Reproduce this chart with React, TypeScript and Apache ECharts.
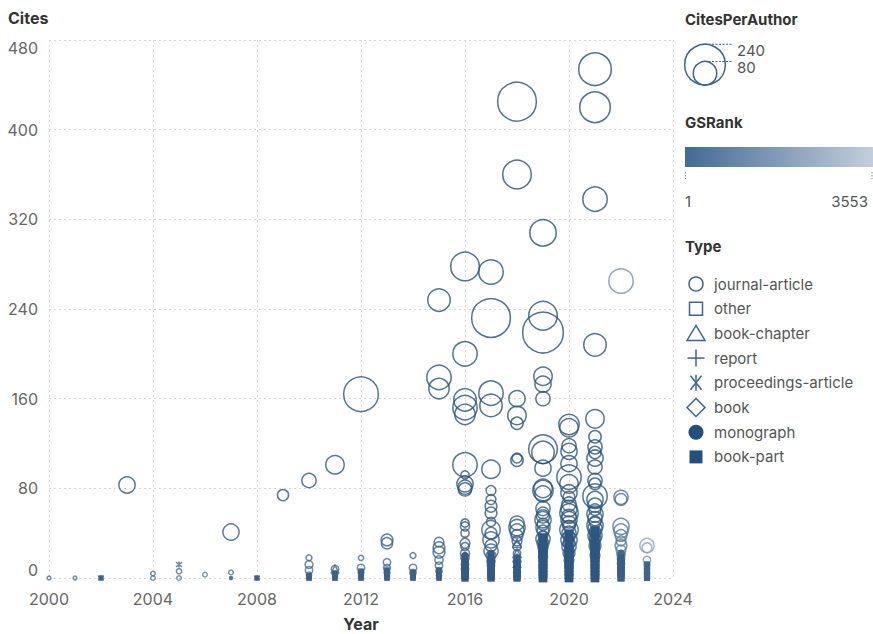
import React, { useEffect, useRef } from "react";
import * as echarts from "echarts";

// ---------- data: [year, cites, citesPerAuthor, gsRank] ----------
const TYPES = ["journal-article", "other", "book-chapter", "report", "proceedings-article", "book", "monograph", "book-part"];
const SIZE_LEGEND = [240, 80];
const RANK_RANGE = [1, 3553];

const journalArticle: number[][] = [
  [2000, 0, 2, 900], [2001, 0, 2, 1000], [2003, 83, 38, 300], [2004, 4, 3, 1200], [2004, 0, 3, 1300],
  [2005, 6, 4, 1100], [2005, 0, 3, 1400], [2006, 3, 3, 1500], [2007, 41, 38, 400], [2007, 5, 3, 1200],
  [2009, 74, 18, 350],
  [2010, 87, 29, 300], [2010, 18, 5, 800], [2010, 12, 9, 900], [2010, 7, 8, 1000], [2010, 3, 4, 1200],
  [2011, 101, 49, 250], [2011, 8, 8, 900], [2011, 4, 5, 1100],
  [2012, 164, 174, 100], [2012, 18, 4, 900], [2012, 9, 8, 1000], [2012, 5, 5, 1100],
  [2013, 34, 20, 600], [2013, 31, 18, 650], [2013, 14, 8, 900], [2013, 9, 7, 1000], [2013, 5, 5, 1100],
  [2014, 20, 5, 800], [2014, 9, 8, 950], [2014, 5, 6, 1100],
  [2015, 248, 73, 150], [2015, 179, 86, 160], [2015, 169, 60, 170], [2015, 32, 14, 600], [2015, 27, 20, 650],
  [2015, 23, 20, 700], [2015, 16, 10, 800], [2015, 11, 8, 900], [2015, 6, 6, 1000],
  [2016, 278, 118, 100], [2016, 200, 86, 120], [2016, 159, 73, 150], [2016, 152, 86, 160], [2016, 146, 60, 165],
  [2016, 101, 86, 200], [2016, 84, 38, 250], [2016, 81, 29, 260], [2016, 79, 25, 270], [2016, 92, 10, 300],
  [2016, 49, 10, 400], [2016, 46, 12, 420], [2016, 40, 10, 450], [2016, 31, 14, 500], [2016, 28, 10, 550],
  [2016, 22, 12, 600], [2016, 18, 10, 700], [2016, 12, 8, 800], [2016, 8, 8, 900], [2016, 5, 6, 1000],
  [2017, 273, 86, 100], [2017, 232, 217, 90], [2017, 165, 86, 150], [2017, 154, 73, 160], [2017, 97, 49, 200],
  [2017, 78, 14, 300], [2017, 70, 14, 320], [2017, 64, 20, 340], [2017, 58, 20, 360], [2017, 50, 12, 400],
  [2017, 43, 49, 420], [2017, 40, 20, 440], [2017, 34, 38, 460], [2017, 29, 20, 500], [2017, 24, 29, 520],
  [2017, 20, 14, 600], [2017, 15, 10, 700], [2017, 11, 8, 800], [2017, 7, 6, 900],
  [2018, 425, 217, 80], [2018, 360, 118, 90], [2018, 160, 38, 150], [2018, 145, 49, 160], [2018, 138, 22, 170],
  [2018, 105, 22, 200], [2018, 107, 14, 210], [2018, 49, 29, 400], [2018, 45, 38, 420], [2018, 42, 29, 440],
  [2018, 38, 20, 460], [2018, 33, 14, 500], [2018, 28, 10, 600], [2018, 22, 8, 700], [2018, 15, 8, 800], [2018, 10, 6, 900],
  [2019, 308, 101, 90], [2019, 234, 118, 100], [2019, 219, 240, 95], [2019, 180, 49, 150], [2019, 173, 38, 160],
  [2019, 160, 29, 170], [2019, 115, 118, 200], [2019, 112, 73, 210], [2019, 98, 38, 230], [2019, 80, 49, 260],
  [2019, 78, 60, 270], [2019, 75, 38, 280], [2019, 62, 29, 300], [2019, 58, 20, 320], [2019, 55, 25, 330],
  [2019, 52, 38, 340], [2019, 48, 20, 360], [2019, 45, 29, 380], [2019, 42, 20, 400], [2019, 38, 14, 420],
  [2019, 35, 29, 440], [2019, 31, 20, 460], [2019, 27, 14, 500], [2019, 23, 10, 550], [2019, 19, 12, 600],
  [2019, 15, 8, 700], [2019, 11, 8, 800], [2019, 7, 6, 900], [2019, 4, 5, 1000],
  [2020, 137, 60, 150], [2020, 134, 49, 155], [2020, 118, 29, 170], [2020, 113, 38, 180], [2020, 102, 38, 200],
  [2020, 90, 86, 220], [2020, 84, 49, 230], [2020, 76, 38, 260], [2020, 72, 20, 270], [2020, 66, 29, 290],
  [2020, 62, 38, 300], [2020, 58, 49, 310], [2020, 55, 29, 320], [2020, 52, 38, 330], [2020, 49, 29, 340],
  [2020, 46, 20, 360], [2020, 43, 49, 380], [2020, 40, 29, 400], [2020, 37, 20, 420], [2020, 34, 38, 440],
  [2020, 31, 20, 460], [2020, 28, 29, 480], [2020, 25, 14, 500], [2020, 22, 20, 550], [2020, 19, 10, 600],
  [2020, 16, 14, 650], [2020, 13, 8, 700], [2020, 10, 10, 800], [2020, 7, 6, 900], [2020, 4, 5, 1000], [2020, 2, 4, 1100],
  [2021, 454, 154, 80], [2021, 420, 135, 85], [2021, 338, 86, 90], [2021, 208, 73, 110], [2021, 142, 49, 150],
  [2021, 126, 22, 170], [2021, 117, 29, 180], [2021, 112, 22, 190], [2021, 107, 38, 195], [2021, 99, 29, 200],
  [2021, 87, 29, 230], [2021, 84, 20, 240], [2021, 73, 86, 260], [2021, 70, 38, 270], [2021, 65, 29, 290],
  [2021, 61, 20, 300], [2021, 57, 38, 310], [2021, 53, 29, 330], [2021, 50, 20, 350], [2021, 47, 38, 370],
  [2021, 44, 29, 390], [2021, 41, 20, 400], [2021, 38, 29, 420], [2021, 35, 20, 440], [2021, 32, 14, 460],
  [2021, 29, 20, 480], [2021, 26, 14, 500], [2021, 23, 10, 550], [2021, 20, 14, 600], [2021, 17, 10, 650],
  [2021, 14, 8, 700], [2021, 11, 8, 800], [2021, 8, 6, 900], [2021, 5, 5, 1000],
  [2022, 265, 86, 1800], [2022, 72, 29, 900], [2022, 70, 20, 950], [2022, 46, 38, 1100], [2022, 42, 29, 1150],
  [2022, 38, 20, 1200], [2022, 33, 14, 1300], [2022, 29, 20, 1350], [2022, 25, 14, 1400], [2022, 21, 10, 1500],
  [2022, 17, 8, 1600], [2022, 13, 8, 1700], [2022, 9, 6, 1800], [2022, 5, 5, 1900],
  [2023, 29, 29, 2400], [2023, 27, 14, 2300], [2023, 16, 8, 2000], [2023, 12, 5, 2100], [2023, 8, 4, 2200], [2023, 4, 4, 2300],
];

const other: number[][] = [
  [2013, 2, 4, 1200], [2016, 3, 4, 1200], [2019, 2, 4, 1200], [2021, 2, 4, 1300],
];

const bookChapter: number[][] = [
  [2011, 8, 8, 900], [2010, 2, 3, 1200], [2012, 2, 3, 1200], [2018, 31, 10, 600], [2018, 22, 10, 700],
  [2018, 18, 8, 750], [2018, 13, 8, 800], [2018, 8, 6, 900], [2018, 4, 5, 1000], [2019, 6, 5, 1000],
  [2020, 5, 5, 1000], [2016, 3, 4, 1100], [2017, 3, 4, 1100], [2021, 3, 4, 1100],
];

const report: number[][] = [
  [2011, 1, 4, 1300], [2014, 1, 4, 1300], [2017, 1, 4, 1300], [2020, 1, 4, 1300], [2022, 1, 4, 1800],
];

const proceedingsArticle: number[][] = [
  [2002, 0, 4, 1000], [2005, 12, 5, 900], [2008, 0, 4, 1000], [2019, 3, 4, 1100],
];

const book: number[][] = [
  [2015, 2, 4, 1200], [2018, 2, 4, 1200], [2020, 3, 4, 1200],
];

const monograph: number[][] = [
  [2007, 0, 3, 1200], [2013, 1, 3, 1300], [2016, 1, 3, 1300], [2019, 1, 3, 1300], [2021, 1, 3, 1300],
  [2019, 24, 14, 400], [2019, 30, 14, 400], [2020, 20, 14, 400], [2020, 35, 14, 400], [2021, 28, 14, 400],
  [2021, 38, 14, 400], [2016, 20, 8, 500], [2017, 22, 8, 500], [2018, 18, 8, 500], [2022, 22, 8, 800],
];

const bookPart: number[][] = [
  [2002, 0, 5, 600], [2008, 0, 5, 600],
  [2010, 0, 6, 600], [2010, 2, 6, 600],
  [2011, 0, 6, 600], [2011, 2, 6, 600], [2011, 4, 6, 600],
  [2012, 0, 6, 600], [2012, 2, 6, 600], [2012, 4, 6, 600], [2012, 6, 6, 600],
  [2013, 0, 6, 600], [2013, 2, 6, 600], [2013, 4, 6, 600], [2013, 7, 6, 600],
  [2014, 0, 6, 600], [2014, 2, 6, 600], [2014, 5, 6, 600],
  [2015, 0, 6, 600], [2015, 2, 6, 600], [2015, 4, 6, 600], [2015, 7, 6, 600],
  [2016, 0, 10, 400], [2016, 2, 10, 400], [2016, 4, 10, 400], [2016, 6, 10, 400], [2016, 9, 10, 400],
  [2016, 12, 10, 400], [2016, 15, 10, 400],
  [2017, 0, 10, 400], [2017, 2, 10, 400], [2017, 4, 10, 400], [2017, 6, 10, 400], [2017, 9, 10, 400],
  [2017, 12, 10, 400], [2017, 15, 10, 400], [2017, 18, 10, 400],
  [2018, 0, 10, 400], [2018, 2, 10, 400], [2018, 4, 10, 400], [2018, 7, 10, 400], [2018, 10, 10, 400], [2018, 13, 10, 400],
  [2019, 0, 14, 300], [2019, 3, 14, 300], [2019, 6, 14, 300], [2019, 9, 14, 300], [2019, 12, 14, 300],
  [2019, 15, 14, 300], [2019, 18, 14, 300], [2019, 21, 14, 300], [2019, 24, 14, 300], [2019, 27, 14, 300],
  [2019, 30, 14, 300], [2019, 33, 14, 300], [2019, 36, 14, 300],
  [2020, 0, 14, 300], [2020, 3, 14, 300], [2020, 6, 14, 300], [2020, 9, 14, 300], [2020, 12, 14, 300],
  [2020, 15, 14, 300], [2020, 18, 14, 300], [2020, 21, 14, 300], [2020, 24, 14, 300], [2020, 27, 14, 300],
  [2020, 30, 14, 300], [2020, 33, 14, 300], [2020, 36, 14, 300], [2020, 39, 14, 300],
  [2021, 0, 14, 300], [2021, 3, 14, 300], [2021, 6, 14, 300], [2021, 9, 14, 300], [2021, 12, 14, 300],
  [2021, 15, 14, 300], [2021, 18, 14, 300], [2021, 21, 14, 300], [2021, 24, 14, 300], [2021, 27, 14, 300],
  [2021, 30, 14, 300], [2021, 33, 14, 300], [2021, 36, 14, 300], [2021, 39, 14, 300], [2021, 42, 14, 300],
  [2022, 0, 10, 500], [2022, 3, 10, 500], [2022, 6, 10, 500], [2022, 9, 10, 500], [2022, 12, 10, 500],
  [2022, 15, 10, 500], [2022, 18, 10, 500],
  [2023, 0, 7, 700], [2023, 3, 7, 700], [2023, 6, 7, 700], [2023, 9, 7, 700], [2023, 12, 7, 700],
];

// ---------- styling ----------
const FONT = "Inter";
const C_DARK = "#1f4c79";
const C_LIGHT = "#c3cedb";
const LEG_COLOR = "#3a6690";
const SIZE_K = 2.63;

const PLUS_PATH = "path://M0,-10L0,10M-10,0L10,0";
const AST_PATH = "path://M0,-10L0,10M-6,-8L6,8M-6,8L6,-8";

function rankColor(rank: number) {
  const t = (rank - RANK_RANGE[0]) / (RANK_RANGE[1] - RANK_RANGE[0]);
  return echarts.color.lerp(Math.max(0, Math.min(1, t)), [C_DARK, C_LIGHT]) as string;
}

function buildSeries(name: string, rows: number[][], symbol: string, filled: boolean, sizeFactor = 1) {
  return {
    type: "scatter",
    name,
    symbol,
    data: rows.map((r) => {
      const c = rankColor(r[3]);
      return {
        value: r,
        symbolSize: SIZE_K * Math.sqrt(r[2]) * sizeFactor,
        itemStyle: filled
          ? { color: c, borderWidth: 0, opacity: 1 }
          : { color: "rgba(0,0,0,0)", borderColor: c, borderWidth: 1.5, opacity: 0.8 },
      };
    }),
  };
}

function legendGraphics() {
  const els: any[] = [];
  const title = (text: string, x: number, y: number) => ({
    type: "text",
    style: { text, x, y, font: `bold 15px ${FONT}`, fill: "#333", textVerticalAlign: "middle" },
  });
  const label = (text: string, x: number, y: number, align = "left") => ({
    type: "text",
    style: { text, x, y, font: `15px ${FONT}`, fill: "#555", textAlign: align, textVerticalAlign: "middle" },
  });
  // CitesPerAuthor
  els.push(title("CitesPerAuthor", 685, 19));
  const bottom = 85;
  const cx = 705;
  SIZE_LEGEND.forEach((v) => {
    const r = (SIZE_K * Math.sqrt(v)) / 2;
    const cy = bottom - r;
    els.push({ type: "circle", shape: { cx, cy, r }, style: { fill: "none", stroke: LEG_COLOR, lineWidth: 1.5 } });
    els.push({
      type: "line",
      shape: { x1: cx, y1: cy - r, x2: 732, y2: cy - r },
      style: { stroke: LEG_COLOR, lineWidth: 1, lineDash: [2, 1.5] },
    });
    els.push(label(String(v), 737, cy - r + 6));
  });
  // GSRank
  els.push(title("GSRank", 685, 122));
  els.push({
    type: "rect",
    shape: { x: 685, y: 147, width: 188, height: 20 },
    style: {
      fill: new echarts.graphic.LinearGradient(0, 0, 1, 0, [
        { offset: 0, color: "#426b93" },
        { offset: 1, color: C_LIGHT },
      ]),
    },
  });
  [685.5, 872].forEach((x) =>
    els.push({ type: "line", shape: { x1: x, y1: 172, x2: x, y2: 179 }, style: { stroke: "#6a8cab", lineWidth: 1, lineDash: [1.5, 1.5] } })
  );
  els.push(label(String(RANK_RANGE[0]), 685, 201));
  els.push(label(String(RANK_RANGE[1]), 868, 201, "right"));
  // Type
  els.push(title("Type", 685, 246));
  const y0 = 284;
  const step = 24.7;
  const sx = 696;
  const st = { fill: "none", stroke: LEG_COLOR, lineWidth: 1.5 };
  TYPES.forEach((t, i) => {
    const y = y0 + i * step;
    switch (t) {
      case "journal-article":
        els.push({ type: "circle", shape: { cx: sx, cy: y, r: 7 }, style: st });
        break;
      case "other":
        els.push({ type: "rect", shape: { x: sx - 6.5, y: y - 6.5, width: 13, height: 13 }, style: st });
        break;
      case "book-chapter":
        els.push({ type: "polygon", shape: { points: [[sx, y - 8], [sx + 9, y + 7], [sx - 9, y + 7]] }, style: st });
        break;
      case "report":
        els.push({ type: "line", shape: { x1: sx - 8.5, y1: y, x2: sx + 8.5, y2: y }, style: st });
        els.push({ type: "line", shape: { x1: sx, y1: y - 8.5, x2: sx, y2: y + 8.5 }, style: st });
        break;
      case "proceedings-article":
        els.push({ type: "line", shape: { x1: sx, y1: y - 8, x2: sx, y2: y + 8 }, style: st });
        els.push({ type: "line", shape: { x1: sx - 5.5, y1: y - 7, x2: sx + 5.5, y2: y + 7 }, style: st });
        els.push({ type: "line", shape: { x1: sx - 5.5, y1: y + 7, x2: sx + 5.5, y2: y - 7 }, style: st });
        break;
      case "book":
        els.push({ type: "polygon", shape: { points: [[sx, y - 9], [sx + 9, y], [sx, y + 9], [sx - 9, y]] }, style: st });
        break;
      case "monograph":
        els.push({ type: "circle", shape: { cx: sx, cy: y, r: 7.5 }, style: { fill: "#22507c" } });
        break;
      case "book-part":
        els.push({ type: "rect", shape: { x: sx - 6.5, y: y - 6.5, width: 13, height: 13 }, style: { fill: "#22507c" } });
        break;
    }
    els.push(label(t, 714, y));
  });
  // axis titles
  els.push({ type: "text", style: { text: "Cites", x: 8, y: 18, font: `bold 16px ${FONT}`, fill: "#333", textVerticalAlign: "middle" } });
  els.push({ type: "text", style: { text: "Year", x: 361, y: 624, font: `bold 16px ${FONT}`, fill: "#333", textAlign: "center", textVerticalAlign: "middle" } });
  return els;
}

export default function App() {
  const ref = useRef<HTMLDivElement>(null);
  useEffect(() => {
    if (!ref.current) return;
    const chart = echarts.init(ref.current, null, { renderer: "svg" });
    const gridLine = { show: true, lineStyle: { color: "#d6d6d6", type: [2, 3] as any, width: 1 } };
    chart.setOption({
      animation: false,
      backgroundColor: "#fff",
      textStyle: { fontFamily: FONT },
      grid: { left: 49, right: 200, top: 40, bottom: 56 },
      xAxis: {
        type: "value",
        min: 2000,
        max: 2024,
        interval: 4,
        axisLine: { show: false },
        axisTick: { show: false },
        splitLine: gridLine,
        axisLabel: { formatter: (v: number) => String(v), fontSize: 16, color: "#666", fontFamily: FONT, margin: 13 },
      },
      yAxis: {
        type: "value",
        min: 0,
        max: 480,
        interval: 80,
        axisLine: { show: false },
        axisTick: { show: false },
        splitLine: gridLine,
        axisLabel: {
          fontSize: 16,
          color: "#666",
          fontFamily: FONT,
          margin: 11,
          verticalAlignMinLabel: "bottom",
          verticalAlignMaxLabel: "top",
        },
      },
      series: [
        buildSeries("journal-article", journalArticle, "circle", false),
        buildSeries("other", other, "rect", false, 0.89),
        buildSeries("book-chapter", bookChapter, "triangle", false),
        buildSeries("report", report, PLUS_PATH, false),
        buildSeries("proceedings-article", proceedingsArticle, AST_PATH, false),
        buildSeries("book", book, "diamond", false),
        buildSeries("monograph", monograph, "circle", true),
        buildSeries("book-part", bookPart, "rect", true, 0.89),
      ],
      graphic: { elements: legendGraphics() },
    });
    return () => chart.dispose();
  }, []);
  return <div ref={ref} style={{ position: "fixed", left: 0, top: 0, width: 873, height: 634 }} />;
}
